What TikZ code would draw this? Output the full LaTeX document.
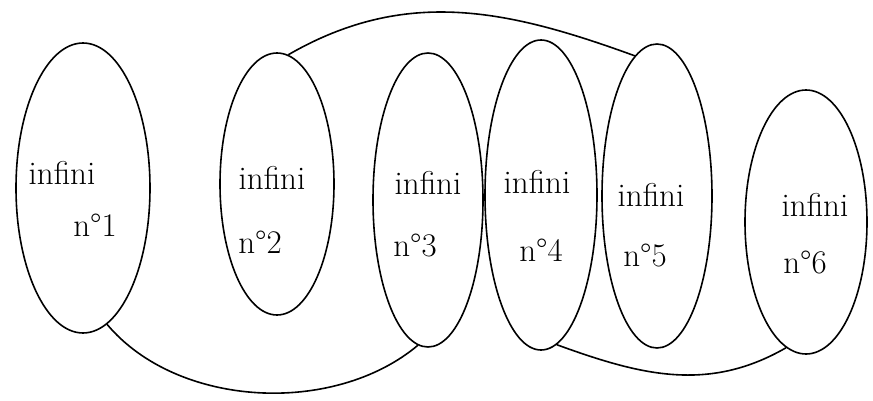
\documentclass[tikz,border=0pt]{standalone}
\usepackage{tikz}
\usetikzlibrary{shapes.geometric}

\begin{document}
\begin{tikzpicture}[
  x=1pt, y=1pt,
  every node/.style={font=\fontsize{33}{36}\selectfont},
  blob/.style={ellipse, draw, line width=1.6pt, inner sep=0pt},
  word/.style={inner sep=0pt},
  link/.style={line width=1.6pt},
]
  \useasboundingbox (0,0) rectangle (873,400);

  % Ellipses
  \node[blob, minimum width=134pt, minimum height=290pt] (e1) at (83,212) {};
  \node[blob, minimum width=114pt, minimum height=262pt] (e2) at (277,216) {};
  \node[blob, minimum width=110pt, minimum height=294pt] (e3) at (428,200) {};
  \node[blob, minimum width=112pt, minimum height=310pt] (e4) at (541,205) {};
  \node[blob, minimum width=110pt, minimum height=304pt] (e5) at (657,204) {};
  \node[blob, minimum width=122pt, minimum height=264pt] (e6) at (806,178) {};

  % Labels
  \node[word] (w1) at (62,227) {infini};
  \node[word] (n1) at (95,175) {n°1};
  \node[word] (w2) at (272,222) {infini};
  \node[word] (n2) at (260,158) {n°2};
  \node[word] (w3) at (428,217) {infini};
  \node[word] (n3) at (415,155) {n°3};
  \node[word] (w4) at (537,218) {infini};
  \node[word] (n4) at (541,150) {n°4};
  \node[word] (w5) at (651,205) {infini};
  \node[word] (n5) at (645,145) {n°5};
  \node[word] (w6) at (815,195) {infini};
  \node[word] (n6) at (805,138) {n°6};

  % Arcs
  \draw[link] (e2.85) to[out=30, in=160] (e5.99);
  \draw[link] (e1.280) to[out=-50, in=-140, looseness=0.9] (e3.266);
  \draw[link] (e4.276) to[out=-20, in=-150] (e6.261);
\end{tikzpicture}
\end{document}
